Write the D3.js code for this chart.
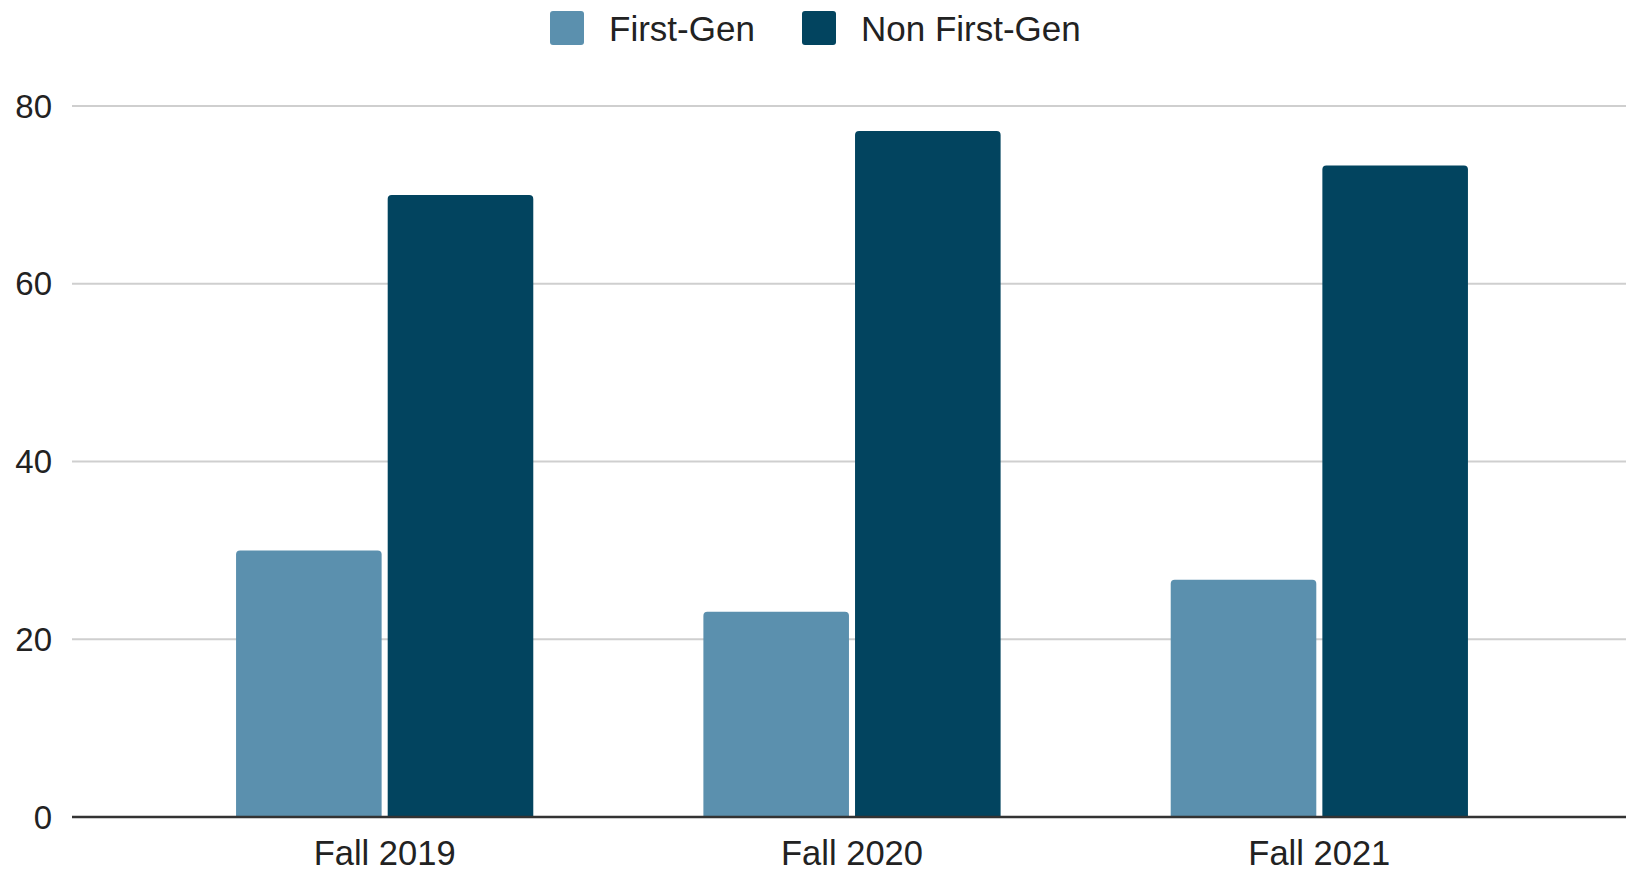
<!DOCTYPE html>
<html>
<head>
<meta charset="utf-8">
<script src="https://cdn.jsdelivr.net/npm/d3@7"></script>
<style>
  html, body { margin: 0; padding: 0; background: #fff; }
  svg { display: block; font-family: "Liberation Sans", Arial, sans-serif; }
</style>
</head>
<body>
<svg id="chart" width="1626" height="872"></svg>
<script>
const categories = ["Fall 2019", "Fall 2020", "Fall 2021"];
const seriesNames = ["First-Gen", "Non First-Gen"];
const firstGen = [30, 23.1, 26.7];
const nonFirstGen = [70, 77.2, 73.3];
const yTicks = [0, 20, 40, 60, 80];
const colors = ["#5b90ae", "#02445f"];

const svg = d3.select("#chart");
const W = 1626;

const y = d3.scaleLinear().domain([0, 80]).range([817, 106]);
const x = d3.scaleBand().domain(categories).range([151, 1553]).paddingInner(0.364).paddingOuter(0.182);
const xs = d3.scaleBand().domain(seriesNames).range([0, x.bandwidth()]).paddingInner(0.04).paddingOuter(0);

// gridlines
svg.append("g").selectAll("line").data(yTicks.filter(d => d !== 0)).join("line")
  .attr("x1", 72).attr("x2", W)
  .attr("y1", d => y(d)).attr("y2", d => y(d))
  .attr("stroke", "#cfcfcf").attr("stroke-width", 2);

// y labels
svg.append("g").selectAll("text").data(yTicks).join("text")
  .attr("x", 52).attr("y", d => y(d))
  .attr("text-anchor", "end").attr("dominant-baseline", "central")
  .attr("font-size", 33).attr("fill", "#222")
  .text(d => d);

// bars with rounded top corners
function barPath(x0, w, yTop, yBase, r) {
  r = Math.min(r, w / 2, (yBase - yTop));
  return `M${x0},${yBase}V${yTop + r}Q${x0},${yTop} ${x0 + r},${yTop}H${x0 + w - r}Q${x0 + w},${yTop} ${x0 + w},${yTop + r}V${yBase}Z`;
}

const data = categories.map((c, i) => ({ cat: c, vals: [firstGen[i], nonFirstGen[i]] }));
const groups = svg.append("g").selectAll("g").data(data).join("g")
  .attr("transform", d => `translate(${x(d.cat)},0)`);
groups.selectAll("path").data(d => d.vals.map((v, j) => ({ name: seriesNames[j], v, j }))).join("path")
  .attr("d", d => barPath(xs(d.name), xs.bandwidth(), y(d.v), y(0), 4))
  .attr("fill", d => colors[d.j]);

// baseline
svg.append("line").attr("x1", 72).attr("x2", W).attr("y1", y(0)).attr("y2", y(0))
  .attr("stroke", "#333").attr("stroke-width", 2.5);

// x labels
svg.append("g").selectAll("text").data(categories).join("text")
  .attr("x", d => x(d) + x.bandwidth() / 2).attr("y", 865)
  .attr("text-anchor", "middle")
  .attr("font-size", 34.5).attr("fill", "#222")
  .text(d => d);

// legend
const legendItems = [{ name: seriesNames[0], x: 550 }, { name: seriesNames[1], x: 802 }];
const lg = svg.append("g");
legendItems.forEach((it, i) => {
  lg.append("rect").attr("x", it.x).attr("y", 11).attr("width", 34).attr("height", 34)
    .attr("rx", 3).attr("fill", colors[i]);
  lg.append("text").attr("x", it.x + 59).attr("y", 28)
    .attr("dominant-baseline", "central").attr("font-size", 35).attr("fill", "#222")
    .text(it.name);
});
</script>
</body>
</html>
